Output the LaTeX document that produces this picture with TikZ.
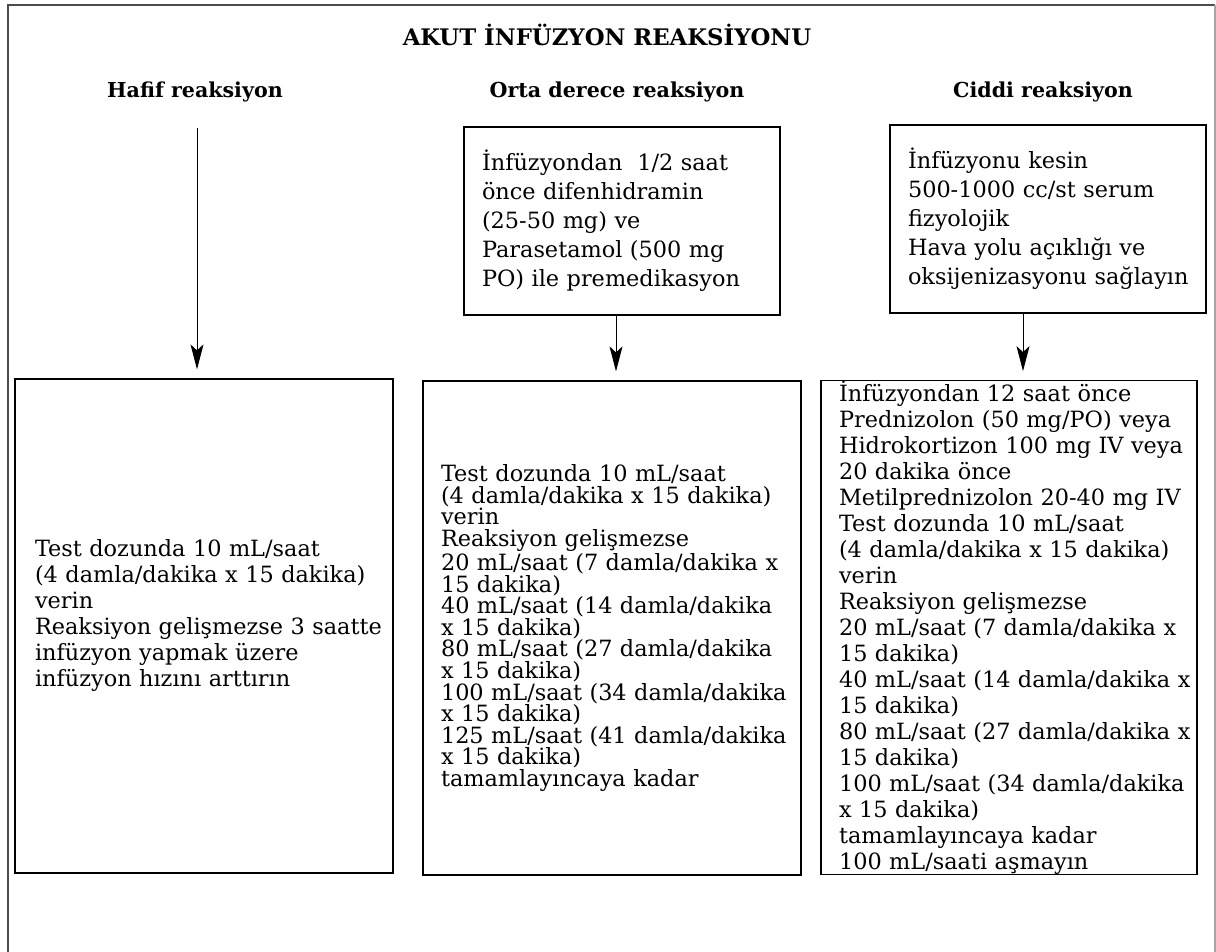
\documentclass[tikz,border=0pt]{standalone}
\usepackage{fontspec}
\setmainfont{DejaVu Serif}
\usetikzlibrary{arrows.meta,positioning,calc}

\begin{document}
\begin{tikzpicture}[
  x=0.5pt, y=-0.5pt, >={Stealth[length=12.5pt,width=6.5pt,inset=3pt]},
  kutu/.style={draw, line width=0.6pt, align=left, inner xsep=0pt, inner ysep=0pt,
               execute at begin node={\leftskip=9pt},
               font=\fontsize{11.2}{13}\selectfont},
  ust/.style={kutu, text width=158pt, minimum height=94pt,
              font=\fontsize{11.2}{14.5}\selectfont},
  baslik/.style={anchor=base, font=\bfseries\fontsize{10.3}{12}\selectfont},
  ok/.style={->, line width=0.5pt, shorten >=4.5pt}]
\useasboundingbox (0,0) rectangle (1216,952);
% cerceve
\draw[black!70, line width=0.8pt] (8,952) -- (8,5) -- (1215,5);
\draw[black!35, line width=0.6pt] (1215,5) -- (1215,952);

% basliklar
\node[baslik, font=\bfseries\fontsize{11.4}{14}\selectfont] (akut) at (607,46) {AKUT İNFÜZYON REAKSİYONU};
\node[baslik] (hafif) at (195,98) {Hafif reaksiyon};
\node[baslik] (orta) at (617,98) {Orta derece reaksiyon};
\node[baslik] (ciddi) at (1043,98) {Ciddi reaksiyon};

% ust kutular
\node[ust] (ortaon) at (622,221) {İnfüzyondan~~1/2 saat\\önce difenhidramin\\(25-50 mg) ve\\Parasetamol (500 mg\\PO) ile premedikasyon};
\node[ust] (ciddion) at (1048,219) {İnfüzyonu kesin\\500-1000 cc/st serum\\fizyolojik\\Hava yolu açıklığı ve\\oksijenizasyonu sağlayın};

% alt kutular
\node[kutu, text width=189pt, minimum height=247pt, execute at begin node={\leftskip=10pt}] (hafifalt) at (204,626)
  {Test dozunda 10 mL/saat\\(4 damla/dakika x 15 dakika)\\verin\\Reaksiyon gelişmezse 3 saatte\\infüzyon yapmak üzere\\infüzyon hızını arttırın\\\mbox{}};
\node[kutu, text width=189pt, minimum height=247pt,
      font=\fontsize{11.2}{10.8}\selectfont] (ortaalt) at (612,628)
  {Test dozunda 10 mL/saat\\(4 damla/dakika x 15 dakika)\\verin\\Reaksiyon gelişmezse\\20 mL/saat (7 damla/dakika x\\15 dakika)\\40 mL/saat (14 damla/dakika\\x 15 dakika)\\80 mL/saat (27 damla/dakika\\x 15 dakika)\\100 mL/saat (34 damla/dakika\\x 15 dakika)\\125 mL/saat (41 damla/dakika\\x 15 dakika)\\tamamlayıncaya kadar};
\node[kutu, text width=188pt, minimum height=246.5pt] (ciddialt) at (1009,627.5)
  {İnfüzyondan 12 saat önce\\Prednizolon (50 mg/PO) veya\\Hidrokortizon 100 mg IV veya\\20 dakika önce\\Metilprednizolon 20-40 mg IV\\Test dozunda 10 mL/saat\\(4 damla/dakika x 15 dakika)\\verin\\Reaksiyon gelişmezse\\20 mL/saat (7 damla/dakika x\\15 dakika)\\40 mL/saat (14 damla/dakika x\\15 dakika)\\80 mL/saat (27 damla/dakika x\\15 dakika)\\100 mL/saat (34 damla/dakika\\x 15 dakika)\\tamamlayıncaya kadar\\100 mL/saati aşmayın};

% oklar
\coordinate (hafifbas) at (197,128);
\draw[ok] (hafifbas) -- ($(hafifalt.north)+(-7,0)$);
\draw[ok] ($(ortaon.south)+(-6,0)$) -- ($(ortaalt.north)+(4,0)$);
\draw[ok] ($(ciddion.south)+(-25,0)$) -- ($(ciddialt.north)+(14,0)$);
\end{tikzpicture}
\end{document}
